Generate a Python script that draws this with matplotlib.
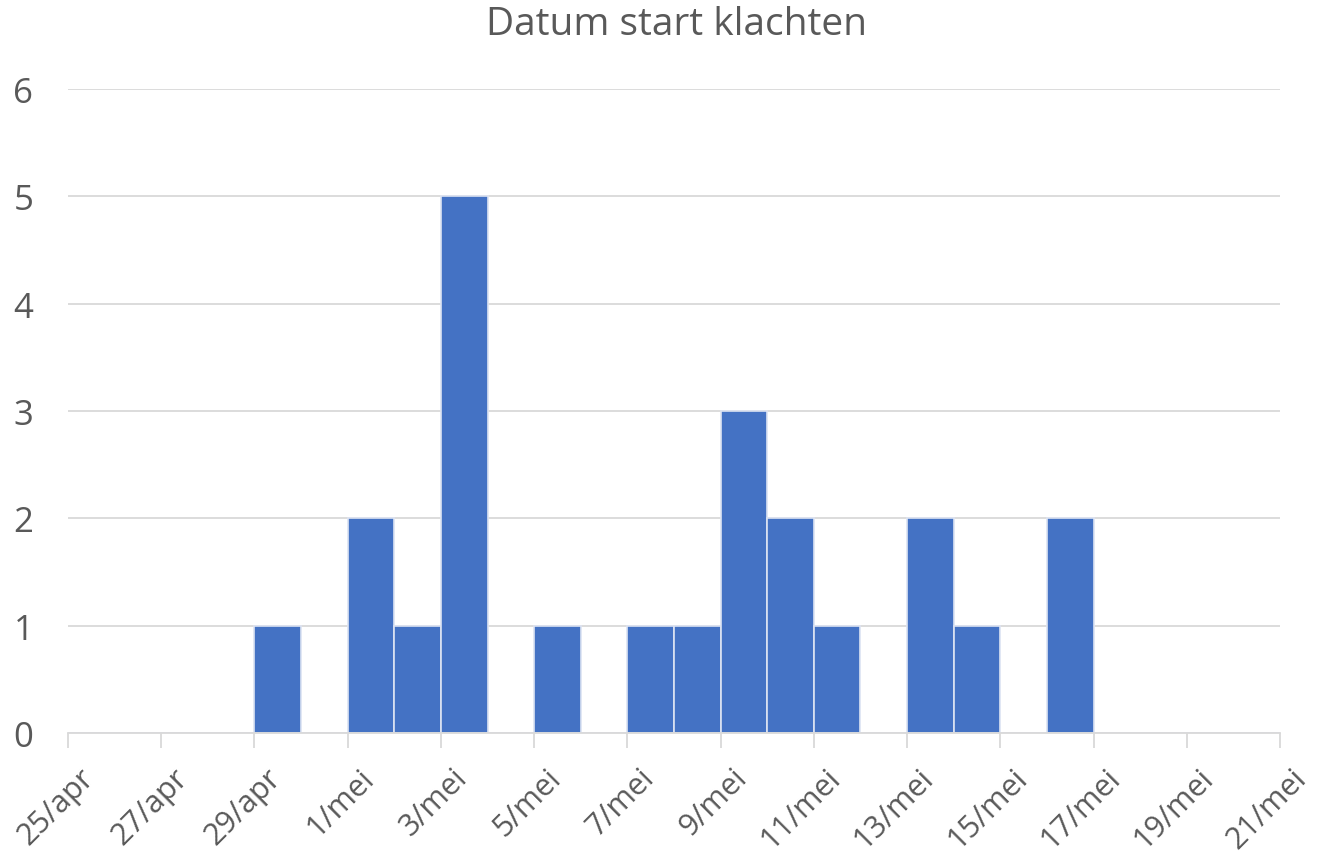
import matplotlib
matplotlib.use("Agg")
import matplotlib.pyplot as plt
import matplotlib.transforms as mtransforms

plt.rcParams['font.family'] = ['Open Sans', 'DejaVu Sans']

# one bin per day, starting 25 april
days = ['25/apr', '26/apr', '27/apr', '28/apr', '29/apr', '30/apr',
        '1/mei', '2/mei', '3/mei', '4/mei', '5/mei', '6/mei', '7/mei',
        '8/mei', '9/mei', '10/mei', '11/mei', '12/mei', '13/mei', '14/mei',
        '15/mei', '16/mei', '17/mei', '18/mei', '19/mei', '20/mei', '21/mei']
counts = [0, 0, 0, 0, 1, 0, 2, 1, 5, 0, 1, 0, 1, 1, 3, 2, 1, 0, 2, 1, 0, 2,
          0, 0, 0, 0]
yticks = [0, 1, 2, 3, 4, 5, 6]

W, H = 1317, 862
fig = plt.figure(figsize=(W / 100, H / 100), dpi=100)
ax = fig.add_axes([68 / W, (H - 734) / H, (1280 - 68) / W, (734 - 90) / H])

grey = '#595959'
ax.bar(range(len(counts)), counts, width=1, align='edge', color='#4472C4',
       edgecolor='#DCE3F2', linewidth=1.2, zorder=3)

ax.set_xlim(0, len(counts))
ax.set_ylim(0, 6)
ax.set_yticks(yticks)
ax.set_yticklabels([str(v) for v in yticks])
ax.grid(axis='y', color='#D9D9D9', linewidth=1.3, zorder=0)

# ticks every 2 days; labels placed by hand (excel-style 45 degree)
tick_pos = list(range(0, len(days), 2))
ax.set_xticks(tick_pos)
ax.set_xticklabels([])
offset = mtransforms.ScaledTranslation(0.22, -0.40, fig.dpi_scale_trans)
for p in tick_pos:
    ax.text(p, 0, days[p], transform=ax.get_xaxis_transform() + offset,
            rotation=45, ha='right', va='center', rotation_mode='anchor',
            fontsize=22, color=grey, clip_on=False)

for s in ['top', 'right', 'left']:
    ax.spines[s].set_visible(False)
ax.spines['bottom'].set_color('#D9D9D9')
ax.spines['bottom'].set_linewidth(1.3)
ax.spines['bottom'].set_zorder(4)

ax.tick_params(axis='x', colors='#D9D9D9', length=11, width=1.3)
ax.tick_params(axis='y', length=0, labelcolor=grey, labelsize=25, pad=25)

fig.text(677 / W, 1 - 25 / H, 'Datum start klachten', ha='center',
         va='center', fontsize=28, color=grey)

fig.savefig('out.png', dpi=100)
